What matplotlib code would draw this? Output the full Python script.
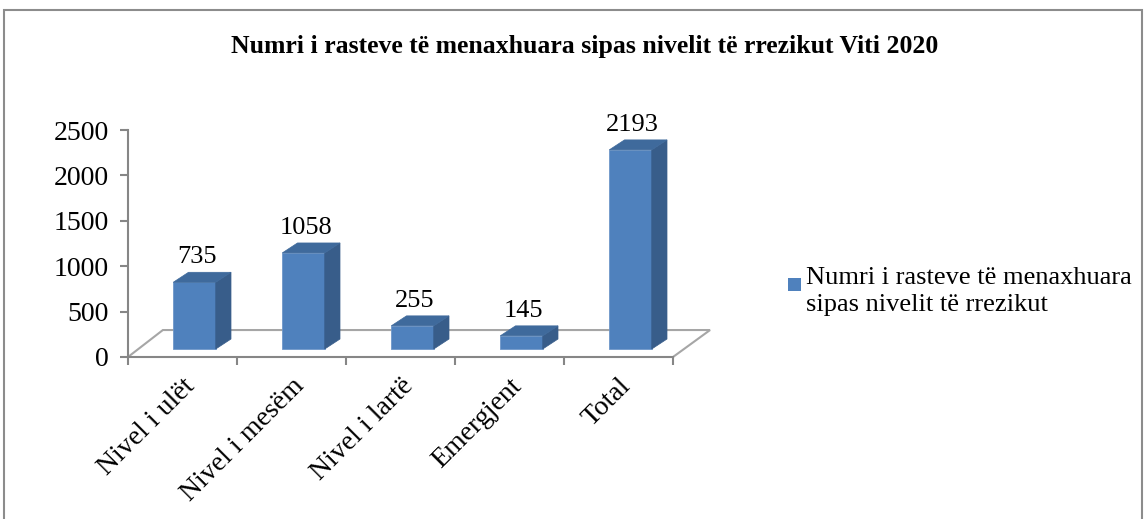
import numpy as np
import matplotlib.pyplot as plt
from matplotlib.patches import Polygon, Rectangle

categories = ["Nivel i ulët", "Nivel i mesëm", "Nivel i lartë", "Emergjent", "Total"]
values = [735, 1058, 255, 145, 2193]
y_ticks = [0, 500, 1000, 1500, 2000, 2500]
title = "Numri i rasteve të menaxhuara sipas nivelit të rrezikut Viti 2020"
series_name = "Numri i rasteve të menaxhuara\nsipas nivelit të rrezikut"

plt.rcParams['font.family'] = ['Liberation Serif', 'DejaVu Serif']

FRONT = '#4F81BD'
SIDE = '#385D8A'
TOP = '#3F6A9C'
GRID = '#A6A6A6'

W, H = 1147, 519
fig = plt.figure(figsize=(W / 100, H / 100), dpi=100)
ax = fig.add_axes([128 / W, (H - 357) / H, (673 - 128) / W, (357 - 130) / H])

# outer frame of the chart area
fig.patches.append(Rectangle((4 / W, -0.1), (1142 - 4) / W, (H - 10) / H + 0.1,
                             transform=fig.transFigure, fill=False,
                             edgecolor='#8C8C8C', linewidth=1.5))

x = np.arange(len(categories))
ax.set_xlim(-0.5, len(categories) - 0.5)
ax.set_ylim(0, 2500)

# 3D floor (depth expressed in data units)
floor_dx, floor_dy = 0.32, 297
x0, x1 = -0.5, len(categories) - 0.5
floor = [(x0, 0), (x0 + floor_dx, floor_dy), (x1 + floor_dx + 0.02, floor_dy), (x1, 0)]
ax.add_patch(Polygon(floor, closed=False, fill=False, edgecolor=GRID,
                     linewidth=1.5, clip_on=False, zorder=1))

# bars sit halfway into the floor depth
shift_x, shift_y = 0.11, 88
bar_w = 0.39
depth_x, depth_y = 0.14, 110

for xi, v in zip(x, values):
    left = xi + shift_x - bar_w / 2
    right = left + bar_w
    base = shift_y
    top = base + v
    ax.add_patch(Rectangle((left, base), bar_w, v, facecolor=FRONT,
                           edgecolor='#6F97C9', linewidth=0.6, zorder=3, clip_on=False))
    side = [(right, base), (right + depth_x, base + depth_y),
            (right + depth_x, top + depth_y), (right, top)]
    ax.add_patch(Polygon(side, facecolor=SIDE, edgecolor=SIDE, linewidth=0.5,
                         zorder=3, clip_on=False))
    cap = [(left, top), (left + depth_x, top + depth_y),
           (right + depth_x, top + depth_y), (right, top)]
    ax.add_patch(Polygon(cap, facecolor=TOP, edgecolor=TOP, linewidth=0.5,
                         zorder=3, clip_on=False))
    ax.text(xi + shift_x + 0.02, top + depth_y + 45, str(v), ha='center', va='bottom',
            fontsize=19, clip_on=False)

for s in ['top', 'right']:
    ax.spines[s].set_visible(False)
for s in ['left', 'bottom']:
    ax.spines[s].set_color('#868686')
    ax.spines[s].set_linewidth(1.5)

ax.set_yticks(y_ticks)
ax.set_yticklabels([str(t) for t in y_ticks], fontsize=20)
ax.set_xticks(np.arange(-0.5, len(categories)), minor=False)
ax.set_xticklabels([])
ax.set_xticks(x, minor=True)
ax.set_xticklabels(categories, minor=True, rotation=45, ha='right',
                   rotation_mode='anchor', fontsize=20)
ax.tick_params(axis='x', which='major', length=6, color='#868686', width=1.5)
ax.tick_params(axis='x', which='minor', length=0, pad=12)
ax.tick_params(axis='y', length=6, color='#868686', width=1.5, pad=8)
ax.patch.set_alpha(0)

fig.text(585 / W, 1 - 46 / H, title, ha='center', va='center',
         fontsize=18.5, fontweight='bold')

# legend
fig.patches.append(Rectangle((788 / W, 1 - 291 / H), 13 / W, 13 / H,
                             transform=fig.transFigure, facecolor=FRONT, edgecolor='none'))
fig.text(806 / W, 1 - 267 / H, series_name, ha='left', va='top',
         fontsize=19, linespacing=1.3)

fig.savefig('out.png', dpi=100)
